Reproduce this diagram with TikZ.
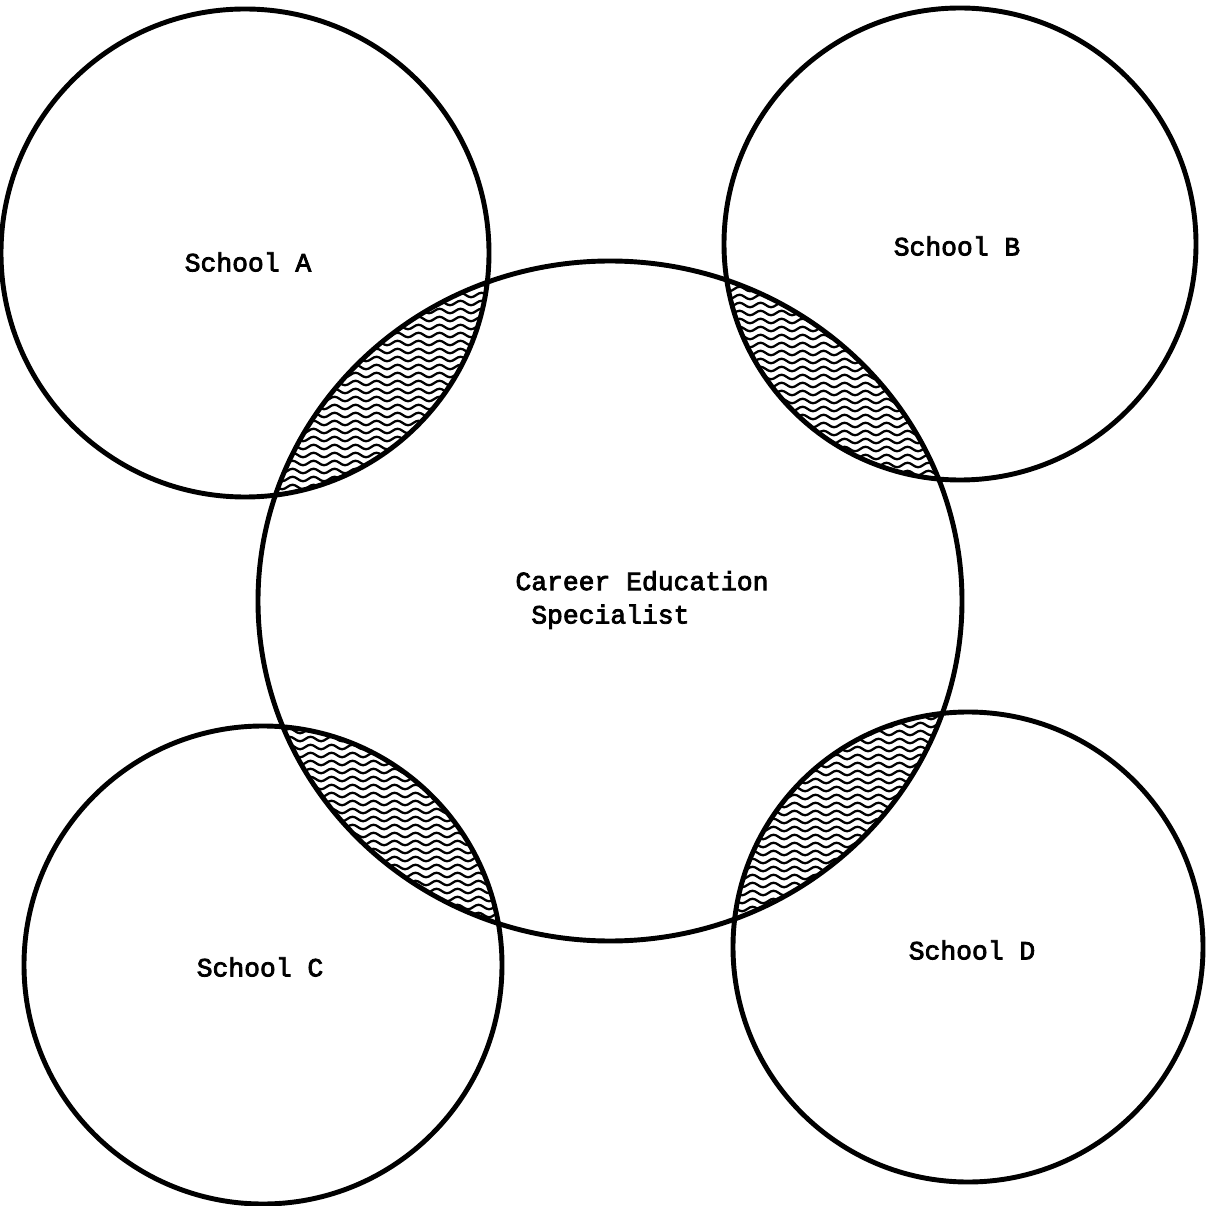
\documentclass[tikz,border=0pt]{standalone}
\usepackage{fontspec}
\newfontfamily\typer[FakeBold=3]{Liberation Mono}
\usepackage{tikz}
\usetikzlibrary{decorations.pathmorphing}
\tikzset{
  ring/.style={line width=2.8pt},
  wave/.style={decorate, decoration={snake, segment length=4.2mm, amplitude=0.45mm}, line width=1.3pt},
  label/.style={font=\typer\fontsize{15}{19}\selectfont, align=left, inner sep=0pt},
  every node/.style={font=\small}
}
% hatch a lens between a school and the specialist
\newcommand{\lens}[4]{%
  \begin{scope}
    \clip (#1) circle[radius=#2];
    \clip (spec) ellipse[x radius=352, y radius=340];
    \foreach \k in {0,...,29}
      \draw[wave] (#4,{#3+8*\k}) -- ++(260,0);
  \end{scope}}

\begin{document}
\begin{tikzpicture}[x=0.02cm, y=0.02cm]
    \useasboundingbox (0,0) rectangle (1217,1205);
    \coordinate (spec) at (610,604);
    \coordinate (schA) at (245,952);
    \coordinate (schB) at (960,961);
    \coordinate (schC) at (263,240);
    \coordinate (schD) at (968,258);
    % shaded overlaps
    \lens{schA}{244}{702}{265}
    \lens{schB}{236}{716}{712}
    \lens{schC}{239}{258}{262}
    \lens{schD}{235}{264}{725}
    % circles
    \draw[ring] (spec) ellipse[x radius=352, y radius=340];
    \draw[ring] (schA) circle[radius=244];
    \draw[ring] (schB) circle[radius=236];
    \draw[ring] (schC) circle[radius=239];
    \draw[ring] (schD) circle[radius=235];
    % labels
    \node[label] (labA) at (248,943) {School A};
    \node[label] (labB) at (957,959) {School B};
    \node[label] (labE) at (642,605) {Career Education\\\hphantom{C}Specialist};
    \node[label] (labC) at (260,238) {School C};
    \node[label] (labD) at (972,255) {School D};
\end{tikzpicture}
\end{document}
